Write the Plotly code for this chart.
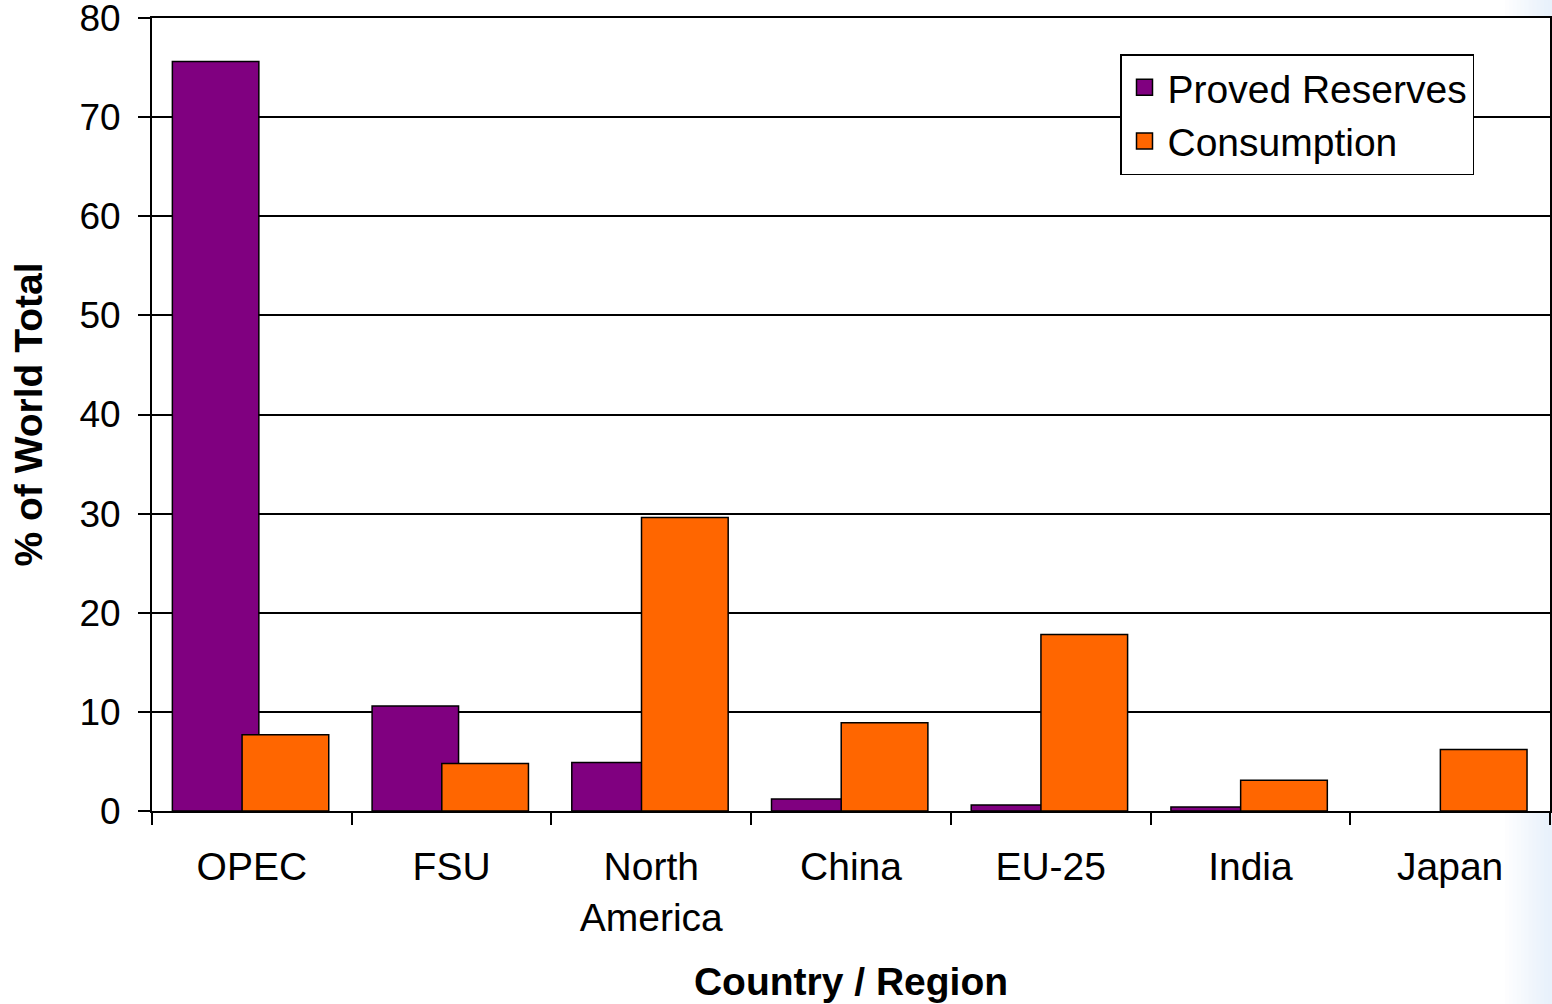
import plotly.graph_objects as go

categories = ["OPEC", "FSU", "North<br>America", "China", "EU-25", "India", "Japan"]
proved_reserves = [75.6, 10.6, 4.9, 1.2, 0.6, 0.4, None]
consumption = [7.7, 4.8, 29.6, 8.9, 17.8, 3.1, 6.2]
y_ticks = [0, 10, 20, 30, 40, 50, 60, 70, 80]
series_names = ["Proved Reserves", "Consumption"]
series_colors = ["#800080", "#FF6600"]

FONT = "Liberation Sans, Arial, sans-serif"
FS = 39
W, H = 1552, 1004
L, R, T, B = 152, 2, 18, 193

fig = go.Figure()
fig.add_trace(go.Bar(
    x=categories, y=proved_reserves, name=series_names[0], showlegend=False,
    marker=dict(color=series_colors[0], line=dict(color="black", width=1.5)),
    offset=-0.398, width=0.433,
))
fig.add_trace(go.Bar(
    x=categories, y=consumption, name=series_names[1], showlegend=False,
    marker=dict(color=series_colors[1], line=dict(color="black", width=1.5)),
    offset=-0.049, width=0.434,
))
# legend entries with larger square swatches
for nm, col in zip(series_names, series_colors):
    fig.add_trace(go.Scatter(
        x=[None], y=[None], mode="markers", name=nm,
        marker=dict(symbol="square", size=22, color=col, line=dict(color="black", width=1.5)),
    ))

# light-blue slide gradient on the right edge (outside plot area)
plot_w = W - L - R
plot_h = H - T - B
n = 12
x0px, x1px = 1505, 1552
shapes = []
for i in range(n):
    a = x0px + (x1px - x0px) * i / n
    b = x0px + (x1px - x0px) * (i + 1) / n
    f = (i + 1) / n
    r = int(255 - (255 - 232) * f)
    g = int(255 - (255 - 241) * f)
    bb = int(255 - (255 - 251) * f)
    col = f"rgb({r},{g},{bb})"
    for y0, y1 in [(-B / plot_h, 0), (1, 1 + T / plot_h)]:
        shapes.append(dict(type="rect", xref="paper", yref="paper",
                           x0=(a - L) / plot_w, x1=(b - L) / plot_w + 0.001,
                           y0=y0, y1=y1, fillcolor=col, line=dict(width=0),
                           layer="below"))

fig.update_layout(
    width=W, height=H,
    margin=dict(l=L, r=R, t=T, b=B, pad=0, autoexpand=False),
    barmode="overlay",
    paper_bgcolor="white", plot_bgcolor="white",
    font=dict(family=FONT, size=FS, color="black"),
    shapes=shapes,
    showlegend=True,
    legend=dict(
        x=(1120 - L) / plot_w, y=(811 - 54) / plot_h,
        xanchor="left", yanchor="top",
        bgcolor="white", bordercolor="black", borderwidth=1.5,
        font=dict(family=FONT, size=FS, color="black"),
        itemsizing="trace", itemwidth=36,
        tracegroupgap=0,
    ),
    xaxis=dict(
        type="category", automargin=False,
        showline=True, linecolor="black", linewidth=2, mirror=True,
        ticks="outside", tickson="boundaries", ticklen=12, tickwidth=2, tickcolor="black",
        showgrid=False,
        ticklabelstandoff=20,
        tickfont=dict(family=FONT, size=FS, color="black"),
        title=dict(text="<b>Country / Region</b>", font=dict(family=FONT, size=FS, color="black"),
                   standoff=30),
    ),
    yaxis=dict(
        range=[0, 80], tickvals=y_ticks, automargin=False,
        showline=True, linecolor="black", linewidth=2, mirror=True,
        ticks="outside", ticklen=12, tickwidth=2, tickcolor="black",
        showgrid=True, gridcolor="black", gridwidth=1.5,
        zeroline=False,
        ticklabeloverflow="allow",
        ticklabelstandoff=10,
        tickfont=dict(family=FONT, size=37, color="black"),
        title=dict(text="<b>% of World Total</b>", font=dict(family=FONT, size=FS, color="black"),
                   standoff=25),
    ),
)

fig.write_html("out.html")
